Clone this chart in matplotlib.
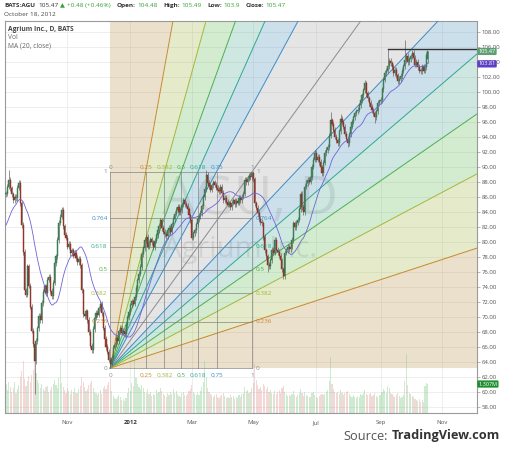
import numpy as np
import pandas as pd
import matplotlib
matplotlib.use("Agg")
import matplotlib.pyplot as plt
import matplotlib.transforms as mtransforms

plt.rcParams['font.family'] = ['Open Sans', 'DejaVu Sans']

# ---------------- data ----------------
start_date, end_date = "2011-09-01", "2012-10-18"

# closes of the 19 sessions before the first shown bar (only used for the MA)
pre_closes = [79.5, 78.2, 77.6, 76.9, 78.4, 80.1, 81.3, 80.6, 82.2, 83.5,
              84.1, 83.0, 82.4, 83.8, 84.9, 85.6, 84.7, 85.9, 86.4]

closes = [
    86.5, 87.4, 88.3, 87.2, 86.4, 85.6, 86.1, 85.9, 87.3, 87.9,
    85.2, 82.3, 78.7, 73.6, 73.0, 76.8, 74.2, 71.4, 68.2, 66.4,
    64.1, 66.8, 68.5, 70.2, 69.6, 71.9, 73.4, 74.1, 73.2, 75.0,
    75.4, 73.5, 72.8, 74.6, 77.2, 78.1, 80.3, 82.6, 83.4, 84.3,
    82.1, 81.0, 80.6, 79.4, 79.8, 78.5, 78.9, 78.2, 78.6, 77.9,
    77.3, 77.8, 76.9, 73.6, 70.4, 70.1, 70.8, 69.6, 68.0, 66.2,
    65.6, 68.4, 69.9, 70.6, 70.3, 71.2, 71.8, 70.5, 68.6, 67.1,
    66.0, 65.4, 64.3, 63.8, 64.6, 65.9, 66.3, 67.2, 66.8, 68.1,
    68.6, 67.9, 68.2, 67.7, 68.9, 70.0, 70.7, 71.6, 72.1, 71.8,
    72.7, 73.9, 74.9, 75.8, 76.7, 78.4, 79.2, 80.3, 80.7, 79.4,
    79.9, 80.4, 80.0, 79.3, 80.2, 80.9, 81.6, 82.2, 82.9, 81.9,
    81.4, 81.1, 80.8, 81.6, 81.9, 81.3, 82.4, 83.1, 83.8, 84.3,
    84.7, 84.0, 84.3, 85.0, 85.6, 85.1, 84.9, 84.4, 83.6, 82.9,
    80.6, 81.2, 81.6, 82.4, 83.1, 83.5, 83.9, 84.8, 86.0, 87.1,
    89.0, 87.9, 87.5, 87.0, 87.6, 88.0, 87.7, 87.3, 87.0, 86.8,
    87.4, 86.6, 85.6, 85.9, 85.4, 85.0, 85.2, 84.7, 85.3, 85.6,
    85.1, 85.5, 85.3, 85.9, 85.6, 86.1, 86.5, 88.3, 88.0, 88.5,
    88.9, 88.7, 89.2, 88.4, 85.2, 84.6, 83.9, 83.1, 82.7, 82.5,
    80.7, 78.9, 78.1, 77.0, 76.8, 77.6, 79.0, 78.6, 80.3, 79.0,
    78.7, 78.2, 77.6, 76.4, 75.5, 78.6, 78.9, 79.4, 79.1, 79.4,
    80.3, 82.5, 82.0, 82.6, 83.0, 84.4, 86.5, 84.7, 84.0, 87.4,
    87.9, 88.3, 88.1, 88.7, 90.1, 91.0, 91.9, 91.0, 91.4, 90.7,
    90.0, 89.2, 90.6, 91.9, 92.3, 92.7, 94.2, 96.3, 95.8, 95.0,
    94.1, 93.6, 93.2, 94.8, 96.5, 96.0, 95.4, 94.5, 93.8, 93.2,
    94.4, 95.4, 96.1, 96.7, 97.2, 97.5, 97.7, 98.3, 99.0, 99.6,
    100.3, 101.2, 99.9, 99.2, 98.6, 98.1, 97.6, 97.2, 96.7, 97.5,
    98.6, 98.8, 99.0, 100.4, 101.7, 102.6, 102.9, 103.5, 104.2, 103.9,
    103.4, 102.6, 103.0, 102.3, 101.5, 101.8, 102.2, 102.9, 103.5, 104.3,
    104.9, 104.0, 104.4, 104.8, 105.3, 104.6, 103.7, 104.1, 103.4, 102.9,
    102.8, 103.5, 102.9, 103.4, 104.99, 105.47,
]

# volume in millions
volumes = [
    1.31, 1.05, 1.42, 1.18, 0.96, 1.12, 1.38, 0.92, 1.07, 1.25,
    1.64, 1.88, 2.35, 1.52, 1.21, 1.44, 1.67, 1.39, 1.72, 1.95,
    2.55, 1.81, 1.48, 1.36, 1.12, 1.29, 1.08, 0.98, 1.17, 1.22,
    0.94, 1.05, 1.16, 1.31, 1.48, 1.26, 1.12, 1.57, 2.42, 1.35,
    1.18, 1.04, 0.92, 1.11, 0.97, 0.86, 1.02, 0.95, 1.13, 0.88,
    0.91, 1.07, 1.24, 1.63, 1.41, 1.15, 0.98, 1.09, 1.27, 1.34,
    1.45, 1.12, 0.96, 0.88, 0.79, 0.92, 1.05, 0.87, 1.14, 1.21,
    1.09, 1.26, 1.38, 1.52, 0.98, 0.76, 0.69, 0.64, 0.71, 0.83,
    0.74, 0.58, 0.62, 0.55, 0.67, 0.92, 1.11, 0.98, 1.36, 1.24,
    2.47, 1.58, 1.33, 1.19, 1.06, 1.27, 1.14, 0.95, 0.91, 1.08,
    0.86, 0.93, 0.77, 0.85, 0.81, 1.02, 0.88, 0.94, 1.13, 0.97,
    0.84, 0.79, 0.73, 0.90, 0.82, 0.95, 0.87, 1.06, 0.92, 0.99,
    0.85, 0.78, 0.74, 0.88, 0.93, 0.81, 0.76, 0.84, 0.97, 1.08,
    1.26, 0.95, 0.87, 0.79, 0.90, 0.83, 0.98, 1.17, 1.42, 2.36,
    1.64, 1.12, 0.96, 0.87, 0.81, 0.74, 0.79, 0.86, 0.72, 0.68,
    0.77, 0.83, 0.91, 0.75, 0.69, 0.73, 0.66, 0.81, 0.70, 0.76,
    0.65, 0.72, 0.68, 0.79, 0.74, 0.86, 0.92, 1.18, 0.97, 1.05,
    0.89, 0.94, 1.12, 1.36, 2.21, 1.48, 1.27, 1.09, 1.15, 1.02,
    1.31, 1.24, 1.08, 1.17, 0.96, 1.03, 0.91, 0.85, 0.98, 0.87,
    0.94, 1.02, 0.89, 1.13, 1.21, 0.96, 0.84, 0.78, 0.82, 0.75,
    0.86, 0.98, 0.79, 0.73, 0.81, 0.92, 1.07, 0.88, 0.77, 0.95,
    0.83, 0.76, 0.70, 0.74, 0.88, 0.93, 0.79, 0.72, 0.68, 0.75,
    0.81, 0.87, 0.79, 0.85, 0.94, 1.02, 1.46, 2.52, 1.31, 1.08,
    0.96, 0.89, 0.93, 0.85, 1.04, 0.91, 0.83, 0.88, 0.95, 1.01,
    0.86, 0.78, 0.74, 0.81, 0.73, 0.69, 0.77, 0.71, 0.84, 0.80,
    0.92, 1.03, 0.87, 0.79, 0.84, 0.90, 0.76, 0.82, 0.88, 0.75,
    0.71, 0.83, 0.79, 0.94, 1.08, 0.97, 0.89, 1.21, 1.14, 0.92,
    0.85, 0.78, 0.73, 0.81, 0.88, 0.76, 0.69, 0.74, 0.83, 1.46,
    2.68, 1.27, 0.91, 0.84, 0.77, 0.71, 0.65, 0.59, 0.54, 0.62,
    0.51, 0.58, 0.49, 1.21, 1.35, 1.307,
]

last_open, last_high, last_low, last_close = 104.48, 105.49, 103.9, 105.47
# notable wick extremes (bar index -> price)
wick_highs = {2: 89.6, 140: 89.6, 172: 89.4, 227: 97.4, 234: 97.1,
              251: 101.7, 267: 105.78, 279: 107.0}
wick_lows = {20: 59.8, 73: 63.2, 183: 76.0, 194: 75.1, 239: 92.7, 258: 95.9}

month_ticks = ["2011-11-01", "2012-01-02", "2012-03-01", "2012-05-01",
               "2012-07-02", "2012-09-03", "2012-11-01"]
month_labels = ["Nov", "2012", "Mar", "May", "Jul", "Sep", "Nov"]

fan_start = ("2011-12-13", 63.2)
fan_end = ("2012-04-30", 89.4)
price_levels = [0, 0.236, 0.382, 0.5, 0.618, 0.764, 1]
time_levels = [0, 0.25, 0.382, 0.5, 0.618, 0.75, 1]
ray_date, ray_price = "2012-09-10", 105.78
ma_last_text = "103.81"
vol_last, vol_last_text = 1.307, "1.307M"

# ---------------- figure ----------------
W, H = 508, 450
fig = plt.figure(figsize=(W / 100, H / 100), dpi=100)
ax = fig.add_axes([4.5 / W, 1 - 413 / H, (477 - 4.5) / W, (413 - 20.5) / H])

dates = pd.bdate_range(start_date, end_date)
all_days = pd.bdate_range(start_date, "2012-12-31")
idx = np.arange(len(dates))
closes = np.array(closes)
volumes = np.array(volumes)

opens = np.r_[pre_closes[-1], closes[:-1]]
opens[-1] = last_open
wick = 0.35
highs = np.maximum(opens, closes) + wick
lows = np.minimum(opens, closes) - wick
for k, v in wick_highs.items():
    highs[k] = v
for k, v in wick_lows.items():
    lows[k] = v
highs[-1], lows[-1] = last_high, last_low

ma = pd.Series(np.r_[pre_closes, closes]).rolling(20).mean().values[len(pre_closes):]

ax.set_xlim(-1.0, 329.4)
ax.set_ylim(57.2, 109.6)
vmax = 17.7

# grid
ax.set_axisbelow(True)
ax.grid(color="#e8e8e8", lw=0.5)

# ---- fib fan ----
i0 = dates.get_loc(pd.Timestamp(fan_start[0])); p0 = fan_start[1]
i1 = dates.get_loc(pd.Timestamp(fan_end[0])); p1 = fan_end[1]
dx, dp = i1 - i0, p1 - p0
far = 60

def far_pt(sx, sy):
    return (i0 + far * sx, p0 + far * sy)

lvl_col = {0: "#8c8c8c", 1: "#8c8c8c", 0.236: "#c8892c", 0.25: "#c8892c",
           0.382: "#a3b83d", 0.5: "#4caf50", 0.618: "#2fa88c",
           0.75: "#3d8cc4", 0.764: "#3d8cc4"}
fill_rgb = {"tan": (0.75, 0.60, 0.33), "yg": (0.65, 0.73, 0.32),
            "g": (0.44, 0.74, 0.38), "m": (0.37, 0.71, 0.61),
            "b": (0.35, 0.60, 0.75), "gr": (0.67, 0.67, 0.67)}

t_up = [0.25, 0.382, 0.5, 0.618, 0.75]
f_lo = [0.764, 0.618, 0.5, 0.382, 0.236]
bounds = [far_pt(0, dp)] + [far_pt(t * dx, dp) for t in t_up] \
    + [far_pt(dx, f * dp) for f in f_lo] + [far_pt(dx, 0)]
regions = ["tan", "yg", "g", "m", "b", "gr", "b", "m", "g", "yg", "tan"]
for k, name in enumerate(regions):
    a, b = bounds[k], bounds[k + 1]
    ax.fill([i0, a[0], b[0]], [p0, a[1], b[1]], color=fill_rgb[name],
            alpha=0.3, lw=0, zorder=1)

for t in t_up:
    e = far_pt(t * dx, dp)
    ax.plot([i0, e[0]], [p0, e[1]], color=lvl_col[t], lw=0.7, zorder=3)
for f in f_lo:
    e = far_pt(dx, f * dp)
    ax.plot([i0, e[0]], [p0, e[1]], color=lvl_col[f], lw=0.7, zorder=3)
e = far_pt(dx, dp)
ax.plot([i0, e[0]], [p0, e[1]], color="#8c8c8c", lw=0.7, zorder=3)

# box grid + labels
for f in price_levels:
    y = p0 + f * dp
    ax.plot([i0, i1], [y, y], color="#808080", lw=0.6, alpha=0.8, zorder=3)
    lab = "0" if f == 0 else ("1" if f == 1 else str(f))
    ax.annotate(lab, (i0, y), xytext=(-2, 0), textcoords="offset points",
                ha="right", va="center", fontsize=4.6, color=lvl_col[f], zorder=6)
    ax.annotate(lab, (i1, y), xytext=(3, 0), textcoords="offset points",
                ha="left", va="center", fontsize=4.6, color=lvl_col[f], zorder=6)
for t in time_levels:
    x = i0 + t * dx
    ax.plot([x, x], [p0, p1], color="#808080", lw=0.6, alpha=0.8, zorder=3)
    lab = "0" if t == 0 else ("1" if t == 1 else str(t))
    ax.annotate(lab, (x, p1), xytext=(0, 3), textcoords="offset points",
                ha="center", va="center", fontsize=4.6, color=lvl_col[t], zorder=6)
    ax.annotate(lab, (x, p0), xytext=(0, -5), textcoords="offset points",
                ha="center", va="center", fontsize=4.6, color=lvl_col[t], zorder=6)

# watermark
ax.text(170.7, 85.6, "AGU, D", fontsize=38, color="#000000", alpha=0.08,
        ha="center", va="center", zorder=2)
ax.text(163.7, 79.0, "Agrium Inc.", fontsize=21, color="#000000", alpha=0.08,
        ha="center", va="center", zorder=2)

# ---- volume ----
up = closes >= np.r_[pre_closes[-1], closes[:-1]]
vtrans = mtransforms.blended_transform_factory(ax.transData, ax.transAxes)
vcol = np.where(up[:, None], [[0.45, 0.78, 0.5, 0.35]], [[0.85, 0.5, 0.5, 0.3]])
ax.bar(idx, volumes / vmax, width=0.8, bottom=0, color=vcol, lw=0,
       transform=vtrans, zorder=2)

# ---- candles ----
cup = closes >= opens
body = np.where(np.abs(closes - opens) < 0.12, 0.12, closes - opens)
ax.vlines(idx, lows, highs, color="#5a5a5a", lw=0.45, zorder=4)
ax.bar(idx[cup], body[cup], bottom=opens[cup], width=0.75, color="#3f8e5e",
       edgecolor="#2d6e47", lw=0.3, zorder=5)
ax.bar(idx[~cup], body[~cup], bottom=opens[~cup], width=0.75, color="#a63a2c",
       edgecolor="#7e2a1f", lw=0.3, zorder=5)

ax.plot(idx, ma, color="#6f63d6", lw=0.6, zorder=6)

# horizontal ray
ax.plot([dates.get_loc(pd.Timestamp(ray_date)), 400], [ray_price, ray_price],
        color="#333333", lw=1.0, zorder=6)

# ---- axes styling ----
for s in ax.spines.values():
    s.set_color("#9a9a9a")
    s.set_linewidth(0.8)
ax.yaxis.tick_right()
yt = np.arange(58, 109, 2)
ax.set_yticks(yt)
ax.set_yticklabels(["%.2f" % v for v in yt])
ax.tick_params(axis="y", length=2, width=0.5, color="#999999", labelsize=4.3,
               labelcolor="#555555", pad=1.5)
xt = all_days.get_indexer(pd.to_datetime(month_ticks))
ax.set_xticks(xt)
ax.set_xticklabels(month_labels)
ax.tick_params(axis="x", length=0, labelsize=4.3, labelcolor="#555555", pad=5)
for tl in ax.get_xticklabels():
    if tl.get_text() == "2012":
        tl.set_fontweight("bold")
        tl.set_color("#333333")

# right-side value tags
ytrans = mtransforms.blended_transform_factory(ax.transAxes, ax.transData)
tag = dict(ha="left", va="center", fontsize=4.0, color="white", clip_on=False,
           zorder=10)
ax.text(1.003, last_close, "%.2f" % last_close, transform=ytrans,
        bbox=dict(boxstyle="round,pad=0.2", fc="#5e9e72", ec="none"), **tag)
ax.text(1.003, float(ma_last_text), ma_last_text, transform=ytrans,
        bbox=dict(boxstyle="round,pad=0.2", fc="#5b3fc4", ec="none"), **tag)
ax.text(1.003, vol_last / vmax, vol_last_text, transform=ax.transAxes,
        bbox=dict(boxstyle="round,pad=0.2", fc="#1f8f2f", ec="none"), **tag)

# legend text
ax.text(0.0075, 0.978, "Agrium Inc., D, BATS", transform=ax.transAxes,
        fontsize=4.8, fontweight="bold", color="#444444", va="center", zorder=10)
ax.text(0.0075, 0.956, "Vol", transform=ax.transAxes, fontsize=4.8,
        color="#666666", va="center", zorder=10)
ax.text(0.0075, 0.935, "MA (20, close)", transform=ax.transAxes, fontsize=4.8,
        color="#666666", va="center", zorder=10)

# ---- header ----
renderer = fig.canvas.get_renderer()
green = "#37a03c"
dark = "#333333"
pieces = [("BATS:AGU", dark, "bold", 3), ("105.47", dark, "normal", 2),
          ("\u25b2", green, "normal", 2), ("+0.48 (+0.46%)", green, "normal", 6),
          ("Open:", dark, "bold", 2), ("104.48", green, "normal", 5),
          ("High:", dark, "bold", 2), ("105.49", green, "normal", 5),
          ("Low:", dark, "bold", 2), ("103.9", green, "normal", 5),
          ("Close:", dark, "bold", 2), ("105.47", green, "normal", 0)]
x = 4
for txt, col, wt, gap in pieces:
    t = fig.text(x / W, 1 - 5.5 / H, txt, color=col, fontweight=wt,
                 fontsize=4.6, ha="left", va="center")
    x = t.get_window_extent(renderer=renderer).x1 + gap
fig.text(4 / W, 1 - 14 / H, "October 18, 2012", color="#444444",
         fontsize=4.6, ha="left", va="center")

# ---- source ----
t2 = fig.text(500 / W, 1 - 436 / H, "TradingView.com", color="#333333",
              fontweight="bold", fontsize=9.2, ha="right", va="center")
x_left = t2.get_window_extent(renderer=renderer).x0
fig.text((x_left - 4) / W, 1 - 436 / H, "Source:", color="#555555",
         fontsize=9.2, ha="right", va="center")

plt.savefig("out.png", dpi=100)
